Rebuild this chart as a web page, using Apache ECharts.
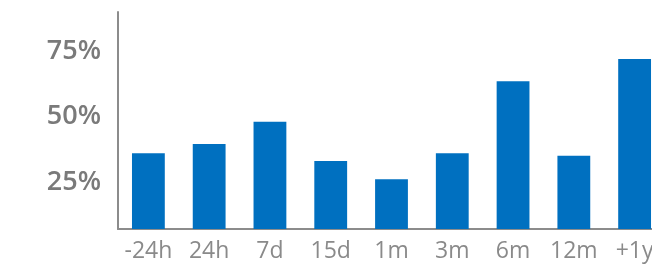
<!DOCTYPE html>
<html>
<head>
<meta charset="utf-8">
<script src="https://cdn.jsdelivr.net/npm/echarts@6/dist/echarts.min.js"></script>
<style>
  html, body { margin: 0; padding: 0; background: #fff; }
  #chart { width: 652px; height: 267px; }
</style>
</head>
<body>
<div id="chart"></div>
<script>
// periods along the bottom
const periods = ['-24h', '24h', '7d', '15d', '1m', '3m', '6m', '12m', '+1y']
// share in percent
const shares = [36, 39.5, 48, 33, 26, 36, 63.5, 35, 72]
// only these ticks carry a label
const tickValues = [25, 50, 75]

const chart = echarts.init(document.getElementById('chart'))

chart.setOption({
  animation: false,
  grid: {
    left: 118,
    width: 547,
    top: 12,
    bottom: 38,
    outerBoundsMode: 'none'
  },
  xAxis: {
    type: 'category',
    data: periods,
    axisLine: { lineStyle: { color: '#8c8c8c', width: 2 } },
    axisTick: { show: false },
    axisLabel: {
      interval: 0,
      margin: 11,
      color: '#8a8a8a',
      fontFamily: 'Open Sans',
      fontSize: 23
    }
  },
  yAxis: {
    type: 'value',
    min: 7,
    max: 90,
    splitLine: { show: false },
    axisTick: { show: false },
    axisLine: { show: true, lineStyle: { color: '#8c8c8c', width: 2 } },
    axisLabel: {
      customValues: tickValues,
      formatter: '{value}%',
      margin: 17,
      color: '#7a7a7a',
      fontFamily: 'Open Sans',
      fontWeight: 600,
      fontSize: 27
    }
  },
  series: [{
    type: 'bar',
    data: shares,
    barWidth: '54%',
    itemStyle: { color: '#0070c0' }
  }]
})
</script>
</body>
</html>
